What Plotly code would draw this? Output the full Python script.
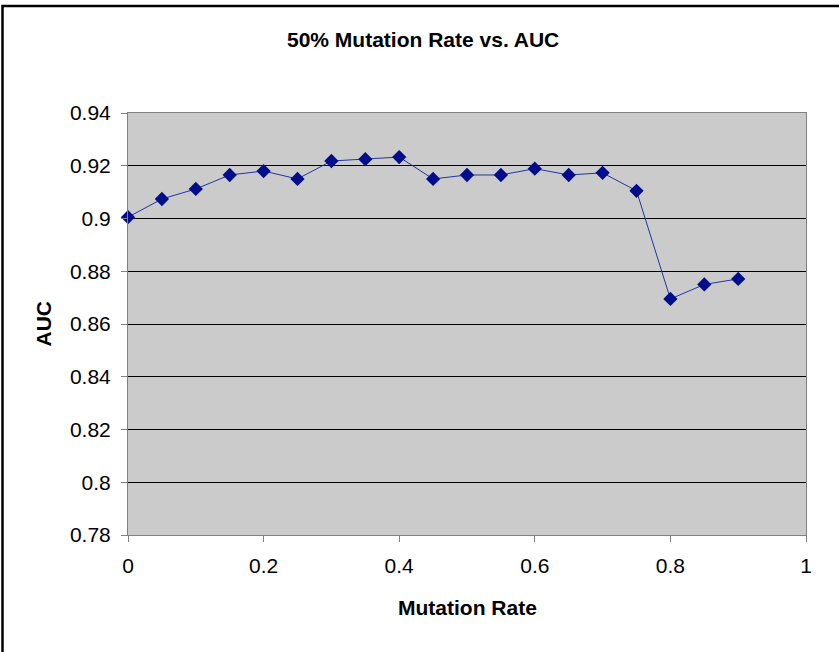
import plotly.graph_objects as go

mutation_rate = [0, 0.05, 0.1, 0.15, 0.2, 0.25, 0.3, 0.35, 0.4, 0.45, 0.5, 0.55,
                 0.6, 0.65, 0.7, 0.75, 0.8, 0.85, 0.9]
auc = [0.9005, 0.9074, 0.9112, 0.9165, 0.918, 0.915, 0.9218, 0.9225, 0.9233,
       0.915, 0.9165, 0.9165, 0.9189, 0.9165, 0.9173, 0.9105, 0.8695, 0.875, 0.8771]
y_ticks = [0.78, 0.8, 0.82, 0.84, 0.86, 0.88, 0.9, 0.92, 0.94]
y_tick_labels = ["0.78", "0.8", "0.82", "0.84", "0.86", "0.88", "0.9", "0.92", "0.94"]
x_ticks = [0, 0.2, 0.4, 0.6, 0.8, 1]
x_tick_labels = ["0", "0.2", "0.4", "0.6", "0.8", "1"]

W, H = 839, 652
L, R, T, B = 128, 33, 113, 117
pw, ph = W - L - R, H - T - B

font = "Liberation Sans, Arial, sans-serif"


def px_x(p):
    return (p - L) / pw


def px_y(p):
    return (H - B - p) / ph


fig = go.Figure()
fig.add_trace(go.Scatter(
    x=mutation_rate, y=auc, mode="lines+markers",
    line=dict(color="#23349e", width=1),
    marker=dict(symbol="diamond", size=11, color="#000e8c",
                line=dict(width=0)),
    cliponaxis=False, showlegend=False,
))

fig.update_layout(
    width=W, height=H,
    margin=dict(l=L, r=R, t=T, b=B),
    paper_bgcolor="white",
    plot_bgcolor="#cbcbcb",
    font=dict(family=font, size=21, color="black"),
    xaxis=dict(range=[0, 1], tickvals=x_ticks, ticktext=x_tick_labels,
               showgrid=False, zeroline=False,
               showline=True, linecolor="#808080", linewidth=1, mirror=True,
               ticks="outside", ticklen=6, tickcolor="#808080",
               tickfont=dict(size=21), ticklabelstandoff=6),
    yaxis=dict(range=[0.78, 0.94], tickvals=y_ticks, ticktext=y_tick_labels,
               showgrid=True, gridcolor="black", gridwidth=1, zeroline=False,
               showline=True, linecolor="#808080", linewidth=1, mirror=True,
               ticks="outside", ticklen=6, tickcolor="#808080",
               tickfont=dict(size=21), ticklabelstandoff=6),
    annotations=[
        dict(text="<b>50% Mutation Rate vs. AUC</b>", xref="paper", yref="paper",
             x=px_x(423), y=px_y(40), xanchor="center", yanchor="middle",
             showarrow=False, font=dict(family=font, size=21, color="black")),
        dict(text="<b>Mutation Rate</b>", xref="paper", yref="paper",
             x=px_x(467), y=px_y(607), xanchor="center", yanchor="middle",
             showarrow=False, font=dict(family=font, size=21, color="black")),
        dict(text="<b>AUC</b>", xref="paper", yref="paper",
             x=px_x(42.5), y=px_y(324), xanchor="center", yanchor="middle",
             textangle=-90,
             showarrow=False, font=dict(family=font, size=21, color="black")),
    ],
    shapes=[
        dict(type="rect", xref="paper", yref="paper",
             x0=px_x(2.5), x1=px_x(W + 10), y0=px_y(6), y1=px_y(H + 10),
             line=dict(color="black", width=2.5), fillcolor="rgba(0,0,0,0)",
             layer="above"),
    ],
)

fig.write_html("out.html", config={"displayModeBar": False},
               post_script="document.body.style.margin='0';")
